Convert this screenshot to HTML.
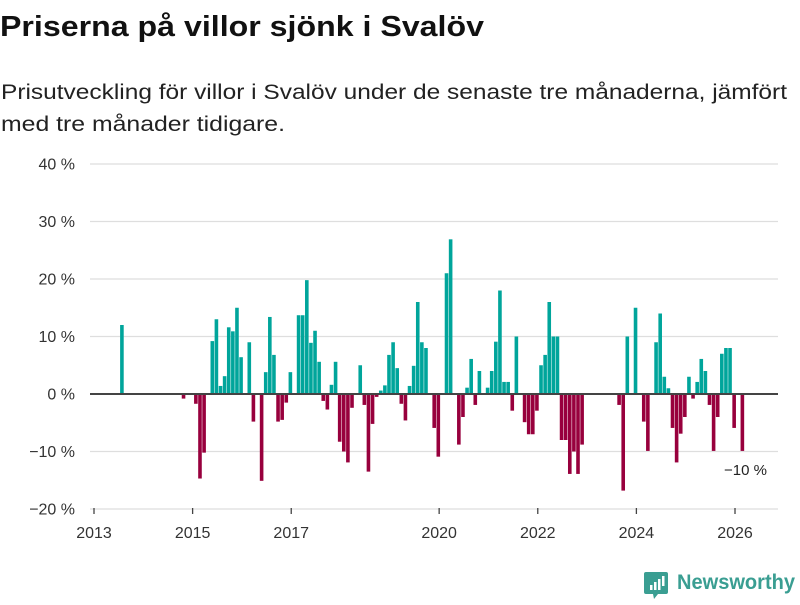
<!DOCTYPE html>
<html><head><meta charset="utf-8"><style>
body{margin:0;background:#fff;width:800px;height:600px;overflow:hidden}
text{font-family:"Liberation Sans",sans-serif}
</style></head><body>
<svg id="chart" width="800" height="600" xmlns="http://www.w3.org/2000/svg">
<text x="0" y="36" font-size="29" font-weight="bold" fill="#111" textLength="484" lengthAdjust="spacingAndGlyphs">Priserna på villor sjönk i Svalöv</text>
<text x="1" y="99" font-size="21" fill="#222" textLength="786" lengthAdjust="spacingAndGlyphs">Prisutveckling för villor i Svalöv under de senaste tre månaderna, jämfört</text>
<text x="1" y="131" font-size="21" fill="#222" textLength="284" lengthAdjust="spacingAndGlyphs">med tre månader tidigare.</text>
<g id="grid"></g><g id="bars"></g><g id="xaxis"></g>
<text x="767" y="475" font-size="15" fill="#222" text-anchor="end">−10 %</text>
<g>
<path d="M646 572 h20 a2 2 0 0 1 2 2 v18 a2 2 0 0 1 -2 2 h-8 l-4 5 l-1 -5 h-7 a2 2 0 0 1 -2 -2 v-18 a2 2 0 0 1 2 -2z" fill="#3a9e92"/>
<rect x="650" y="585" width="2.5" height="5" fill="#fff"/><rect x="654" y="582" width="2.5" height="8" fill="#fff"/><rect x="658" y="579" width="2.5" height="11" fill="#fff"/><rect x="662" y="576" width="2.5" height="10" fill="#fff"/>
<text x="677" y="589" font-size="21" font-weight="bold" fill="#3a9e92" textLength="118" lengthAdjust="spacingAndGlyphs">Newsworthy</text>
</g>
</svg>
<script>
const yTicks=[40,30,20,10,0,-10,-20];
const yTickLabels=["40 %","30 %","20 %","10 %","0 %","−10 %","−20 %"];
const xTickYears=[2013,2015,2017,2020,2022,2024,2026];
const months=[6,21,24,25,26,28,29,30,31,32,33,34,35,37,38,40,41,42,43,44,45,46,47,49,50,51,52,53,54,55,56,57,58,59,60,61,62,64,65,66,67,68,69,70,71,72,73,74,75,76,77,78,79,80,82,83,85,86,88,89,90,91,92,93,95,96,97,98,99,100,101,102,104,105,106,107,108,109,110,111,112,113,114,115,116,117,118,127,128,129,131,133,134,136,137,138,139,140,141,142,143,144,145,146,147,148,149,150,151,152,153,154,155,157];
const values=[12,-0.8,-1.7,-14.7,-10.2,9.2,13,1.4,3.1,11.6,10.9,15,6.4,9,-4.8,-15.1,3.8,13.4,6.8,-4.8,-4.5,-1.5,3.8,13.7,13.7,19.8,8.9,11,5.6,-1.2,-2.7,1.6,5.6,-8.3,-10,-11.9,-2.4,5,-1.9,-13.5,-5.2,-0.5,0.6,1.5,6.8,9,4.5,-1.7,-4.6,1.4,4.9,16,9,8,-5.9,-10.9,21,26.9,-8.8,-4,1.1,6.1,-1.9,4,1.1,4,9.1,18,2.1,2.1,-2.9,10,-4.9,-7,-7,-2.9,5,6.8,16,10,10,-8,-8,-13.9,-10,-13.9,-8.8,-1.9,-16.8,10,15,-4.8,-9.9,9,14,3,1,-5.9,-11.9,-6.9,-4,3,-0.8,2.1,6.1,4,-1.9,-9.9,-4,7,8,8,-5.9,-9.9];
const NS="http://www.w3.org/2000/svg";
const y0=394, pxPer=5.75;
function yScale(v){return y0-v*pxPer;}
function xScale(m){return 94+m*4.109;}
function mk(tag,attrs,parent){const e=document.createElementNS(NS,tag);for(const k in attrs)e.setAttribute(k,attrs[k]);parent.appendChild(e);return e;}
const grid=document.getElementById('grid');
yTicks.forEach((t,i)=>{
  if(t!==0){const l=mk('line',{x1:90,x2:778,y1:yScale(t),y2:yScale(t),stroke:'#dedede','stroke-width':1.3},grid);
  
  }
  const tx=mk('text',{x:75,y:yScale(t)+5.5,'font-size':16,fill:'#333','text-anchor':'end'},grid);
  tx.textContent=yTickLabels[i];
  
  
});
const bars=document.getElementById('bars');
months.forEach((m,i)=>{
  const v=values[i];
  const x=xScale(m+0.5)-0.6;
  const r=mk('rect',{x:x,width:3.6,y:Math.min(yScale(v),y0),height:Math.abs(yScale(v)-y0),fill:v>=0?'#00a59b':'#98003d'},bars);
  
  
});
const zl=mk('line',{x1:90,x2:778,y1:y0,y2:y0,stroke:'#444','stroke-width':2},bars);


const xa=document.getElementById('xaxis');
xTickYears.forEach(yr=>{
  const x=xScale((yr-2013)*12);
  const t=mk('line',{x1:x,x2:x,y1:508,y2:514,stroke:'#444','stroke-width':1.3},xa);
  
  
  const tx=mk('text',{x:x,y:538,'font-size':16,fill:'#333','text-anchor':'middle'},xa);
  tx.textContent=yr;
  
  
});
</script>
</body></html>
